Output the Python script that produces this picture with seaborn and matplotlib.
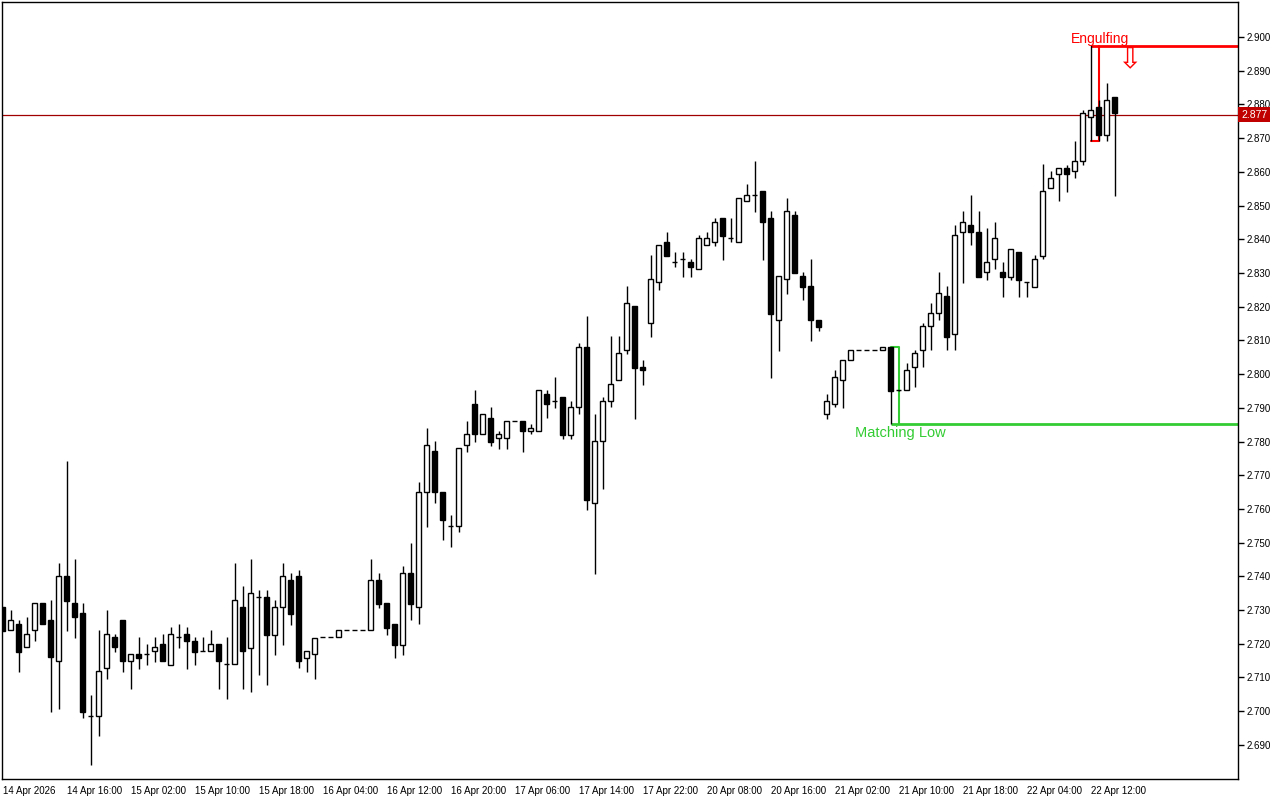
import matplotlib
matplotlib.use("Agg")
import numpy as np
import pandas as pd
import seaborn as sns
import matplotlib.pyplot as plt
from matplotlib.transforms import blended_transform_factory

# hourly OHLC, one entry per bar
opens = [2.7310, 2.7240, 2.7259, 2.7190, 2.7240, 2.7320, 2.7270, 2.7148, 2.7400, 2.7320,
         2.7290, 2.6987, 2.6987, 2.7127, 2.7219, 2.7270, 2.7148, 2.7169, 2.7169, 2.7178,
         2.7198, 2.7138, 2.7219, 2.7229, 2.7209, 2.7178, 2.7178, 2.7198, 2.7139, 2.7139,
         2.7309, 2.7188, 2.7338, 2.7338, 2.7227, 2.7308, 2.7388, 2.7400, 2.7159, 2.7169,
         2.7219, 2.7219, 2.7219, 2.7240, 2.7240, 2.7240, 2.7240, 2.7388, 2.7321, 2.7258,
         2.7197, 2.7409, 2.7308, 2.7649, 2.7772, 2.7649, 2.7549, 2.7549, 2.7789, 2.7911,
         2.7821, 2.7869, 2.7810, 2.7810, 2.7860, 2.7860, 2.7830, 2.7830, 2.7941, 2.7920,
         2.7931, 2.7820, 2.7901, 2.8080, 2.7619, 2.7801, 2.7920, 2.7982, 2.8071, 2.8201,
         2.8020, 2.8151, 2.8272, 2.8391, 2.8332, 2.8341, 2.8332, 2.8311, 2.8382, 2.8391,
         2.8462, 2.8403, 2.8391, 2.8513, 2.8531, 2.8542, 2.8462, 2.8160, 2.8281, 2.8471,
         2.8290, 2.8261, 2.8160, 2.7882, 2.7911, 2.7982, 2.8041, 2.8071, 2.8071, 2.8071,
         2.8071, 2.8080, 2.7952, 2.7952, 2.8020, 2.8071, 2.8142, 2.8180, 2.8231, 2.8120,
         2.8421, 2.8442, 2.8422, 2.8302, 2.8341, 2.8302, 2.8289, 2.8361, 2.8272, 2.8259,
         2.8351, 2.8551, 2.8593, 2.8611, 2.8602, 2.8631, 2.8762, 2.8791, 2.8710, 2.8822]
highs = [2.7310, 2.7300, 2.7270, 2.7279, 2.7320, 2.7320, 2.7330, 2.7439, 2.7742, 2.7452,
         2.7320, 2.7047, 2.7241, 2.7300, 2.7229, 2.7270, 2.7169, 2.7219, 2.7199, 2.7219,
         2.7229, 2.7250, 2.7260, 2.7250, 2.7219, 2.7219, 2.7240, 2.7198, 2.7219, 2.7439,
         2.7371, 2.7452, 2.7360, 2.7360, 2.7329, 2.7439, 2.7409, 2.7419, 2.7178, 2.7218,
         2.7219, 2.7219, 2.7240, 2.7240, 2.7240, 2.7240, 2.7452, 2.7409, 2.7321, 2.7258,
         2.7431, 2.7498, 2.7679, 2.7839, 2.7802, 2.7649, 2.7582, 2.7780, 2.7861, 2.7953,
         2.7881, 2.7902, 2.7831, 2.7860, 2.7860, 2.7860, 2.7851, 2.7952, 2.7953, 2.7992,
         2.7931, 2.7920, 2.8091, 2.8171, 2.7882, 2.7931, 2.8113, 2.8113, 2.8261, 2.8201,
         2.8042, 2.8353, 2.8382, 2.8421, 2.8361, 2.8362, 2.8341, 2.8413, 2.8422, 2.8463,
         2.8462, 2.8463, 2.8522, 2.8564, 2.8632, 2.8542, 2.8483, 2.8290, 2.8522, 2.8483,
         2.8302, 2.8341, 2.8160, 2.7940, 2.8011, 2.8041, 2.8071, 2.8071, 2.8071, 2.8071,
         2.8080, 2.8080, 2.7953, 2.8032, 2.8071, 2.8151, 2.8210, 2.8303, 2.8261, 2.8442,
         2.8484, 2.8531, 2.8484, 2.8433, 2.8450, 2.8332, 2.8370, 2.8361, 2.8272, 2.8352,
         2.8623, 2.8602, 2.8611, 2.8620, 2.8691, 2.8783, 2.8976, 2.8812, 2.8863, 2.8822]
lows = [2.7239, 2.7240, 2.7117, 2.7190, 2.7209, 2.7258, 2.6999, 2.7007, 2.7239, 2.7218,
        2.6979, 2.6839, 2.6927, 2.7096, 2.7176, 2.7117, 2.7067, 2.7126, 2.7138, 2.7147,
        2.7148, 2.7138, 2.7188, 2.7126, 2.7138, 2.7178, 2.7178, 2.7067, 2.7035, 2.7139,
        2.7067, 2.7058, 2.7108, 2.7079, 2.7168, 2.7197, 2.7257, 2.7127, 2.7117, 2.7096,
        2.7219, 2.7219, 2.7219, 2.7240, 2.7240, 2.7240, 2.7240, 2.7307, 2.7227, 2.7159,
        2.7168, 2.7270, 2.7259, 2.7547, 2.7619, 2.7509, 2.7488, 2.7531, 2.7770, 2.7800,
        2.7821, 2.7788, 2.7779, 2.7779, 2.7860, 2.7770, 2.7821, 2.7830, 2.7869, 2.7900,
        2.7808, 2.7808, 2.7881, 2.7597, 2.7408, 2.7660, 2.7901, 2.7982, 2.8061, 2.7868,
        2.7969, 2.8111, 2.8249, 2.8351, 2.8319, 2.8289, 2.8289, 2.8311, 2.8382, 2.8381,
        2.8339, 2.8391, 2.8391, 2.8513, 2.8482, 2.8339, 2.7989, 2.8069, 2.8238, 2.8301,
        2.8221, 2.8099, 2.8129, 2.7868, 2.7902, 2.7899, 2.8041, 2.8071, 2.8071, 2.8071,
        2.8071, 2.7852, 2.7950, 2.7952, 2.7961, 2.8020, 2.8071, 2.8160, 2.8071, 2.8071,
        2.8271, 2.8382, 2.8289, 2.8280, 2.8311, 2.8230, 2.8280, 2.8230, 2.8230, 2.8259,
        2.8341, 2.8551, 2.8513, 2.8541, 2.8581, 2.8621, 2.8691, 2.8691, 2.8691, 2.8529]
closes = [2.7239, 2.7270, 2.7176, 2.7229, 2.7320, 2.7258, 2.7160, 2.7400, 2.7328, 2.7279,
          2.6999, 2.6987, 2.7118, 2.7228, 2.7190, 2.7148, 2.7169, 2.7159, 2.7169, 2.7190,
          2.7148, 2.7229, 2.7219, 2.7209, 2.7176, 2.7178, 2.7198, 2.7148, 2.7139, 2.7329,
          2.7178, 2.7350, 2.7338, 2.7227, 2.7308, 2.7400, 2.7289, 2.7148, 2.7178, 2.7218,
          2.7219, 2.7219, 2.7240, 2.7240, 2.7240, 2.7240, 2.7388, 2.7319, 2.7248, 2.7197,
          2.7409, 2.7319, 2.7649, 2.7789, 2.7649, 2.7568, 2.7549, 2.7780, 2.7821, 2.7821,
          2.7881, 2.7800, 2.7821, 2.7860, 2.7860, 2.7830, 2.7839, 2.7952, 2.7911, 2.7920,
          2.7820, 2.7901, 2.8080, 2.7627, 2.7801, 2.7920, 2.7970, 2.8062, 2.8210, 2.8019,
          2.8011, 2.8281, 2.8382, 2.8351, 2.8332, 2.8341, 2.8319, 2.8403, 2.8403, 2.8450,
          2.8411, 2.8403, 2.8522, 2.8530, 2.8531, 2.8450, 2.8179, 2.8290, 2.8483, 2.8301,
          2.8259, 2.8160, 2.8141, 2.7920, 2.7990, 2.8041, 2.8071, 2.8071, 2.8071, 2.8071,
          2.8080, 2.7951, 2.7952, 2.8011, 2.8062, 2.8142, 2.8180, 2.8240, 2.8111, 2.8413,
          2.8450, 2.8421, 2.8289, 2.8332, 2.8403, 2.8289, 2.8370, 2.8280, 2.8272, 2.8341,
          2.8542, 2.8581, 2.8611, 2.8593, 2.8631, 2.8774, 2.8783, 2.8710, 2.8812, 2.8774]

time_labels = ["14 Apr 2026", "14 Apr 16:00", "15 Apr 02:00", "15 Apr 10:00", "15 Apr 18:00",
               "16 Apr 04:00", "16 Apr 12:00", "16 Apr 20:00", "17 Apr 06:00", "17 Apr 14:00",
               "17 Apr 22:00", "20 Apr 08:00", "20 Apr 16:00", "21 Apr 02:00", "21 Apr 10:00",
               "21 Apr 18:00", "22 Apr 04:00", "22 Apr 12:00"]

bid = 2.877
engulf_bars = [136, 137]
engulf_high = 2.8974
engulf_low = 2.8691
match_bars = [111, 112]
match_top = 2.8080
match_low = 2.7852

df = pd.DataFrame({"open": opens, "high": highs, "low": lows, "close": closes})
df["bar"] = np.arange(len(df))

sns.set_theme(style="white")
plt.rcParams["font.family"] = ["Liberation Sans", "DejaVu Sans"]

fig = plt.figure(figsize=(12.8, 8), dpi=100)
ax = fig.add_axes([2 / 1280, 21 / 800, 1236 / 1280, 777 / 800])

x_right = 154.4

# bid line
ax.axhline(bid, color="#a00000", lw=0.9, zorder=1)

# pattern markers
g = "#33cc33"
ax.plot([match_bars[0], match_bars[1], match_bars[1]], [match_top, match_top, match_low], color=g, lw=1.5, zorder=1)
ax.hlines(match_low, match_bars[0], x_right, color=g, lw=2, zorder=1)
r = "#ff0000"
ax.plot([engulf_bars[1], engulf_bars[1], engulf_bars[0]], [engulf_high, engulf_low, engulf_low], color=r, lw=1.5, zorder=1)
ax.hlines(engulf_high, engulf_bars[0], x_right, color=r, lw=2, zorder=1)

# candles
up = df["close"] >= df["open"]
ax.vlines(df["bar"], df["low"], df["high"], color="black", lw=1, zorder=2)
body_lo = df[["open", "close"]].min(axis=1)
body_h = (df["close"] - df["open"]).abs()
ax.bar(df["bar"], body_h, bottom=body_lo, width=0.6,
       color=np.where(up, "white", "black"), edgecolor="black", linewidth=1, zorder=3)

# labels
ax.text(137.2, engulf_high, "Engulfing", color=r, fontsize=10, ha="center", va="bottom")
ax.text(140.85, 2.8933, "\u21e9", color=r, fontsize=21, ha="center", va="center", family="DejaVu Sans")
ax.text(112.2, match_low - 0.0006, "Matching Low", color=g, fontsize=10.5, ha="center", va="top")

ax.set_xlim(-0.09, x_right)
ax.set_ylim(2.67989, 2.91038)

ax.yaxis.tick_right()
yt = np.round(np.arange(2.69, 2.9001, 0.01), 3)
ax.set_yticks(yt)
ax.set_yticklabels([f"{v:.3f}" for v in yt])
ax.set_xticks(np.arange(0, 8 * len(time_labels), 8))
ax.set_xticklabels(time_labels)
for lab in ax.get_xticklabels():
    lab.set_horizontalalignment("left")
ax.tick_params(axis="both", direction="out", length=4, width=1, color="black",
               labelsize=7, labelcolor="black", pad=2)
ax.tick_params(axis="x", pad=1)
ax.tick_params(axis="y", right=True, left=False)

for s in ax.spines.values():
    s.set_color("black")
    s.set_linewidth(1)

tr = blended_transform_factory(ax.transAxes, ax.transData)
ax.text(1.0025, bid, "2.877", transform=tr, ha="left", va="center", color="white", fontsize=7.5,
        bbox=dict(boxstyle="square,pad=0.25", fc="#c00000", ec="none"))

fig.savefig("out.png", dpi=100)
